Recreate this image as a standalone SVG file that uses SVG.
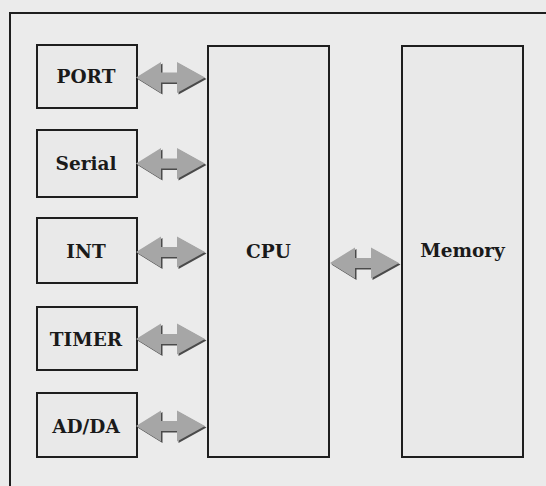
<svg xmlns="http://www.w3.org/2000/svg" xmlns:xlink="http://www.w3.org/1999/xlink" width="546" height="486" viewBox="0 0 546 486">
  <style>
    .box { fill: #e9e9e9; stroke: #1e1e1e; stroke-width: 2; }
    .lbl { font-family: "DejaVu Serif", "Liberation Serif", serif; font-weight: bold; font-size: 18.5px; fill: #1a1a1a; text-anchor: middle; }
    .frame { fill: none; stroke: #1e1e1e; stroke-width: 2; }
    .arw { fill: #a6a6a6; }
    .arw-sh { fill: #4a4a4a; }
  </style>
  <defs>
    <path id="dbl" d="M0,0 L25,-15.5 L25,-5 L41,-5 L41,-15.5 L69,0 L41,15.5 L41,5 L25,5 L25,15.5 Z"/>
  </defs>
  <rect x="0" y="0" width="546" height="486" fill="#ebebeb"/>
  <path class="frame" d="M10,486 L10,13 L546,13"/>

  <g id="port"><rect class="box" x="37" y="45" width="100" height="63"/><text class="lbl" x="86" y="83">PORT</text></g>
  <g id="serial"><rect class="box" x="37" y="130" width="100" height="67"/><text class="lbl" x="86" y="170">Serial</text></g>
  <g id="int"><rect class="box" x="37" y="218" width="100" height="65"/><text class="lbl" x="86" y="258">INT</text></g>
  <g id="timer"><rect class="box" x="37" y="307" width="100" height="63"/><text class="lbl" x="86" y="346">TIMER</text></g>
  <g id="adda"><rect class="box" x="37" y="393" width="100" height="64"/><text class="lbl" x="86" y="433">AD/DA</text></g>
  <g id="cpu"><rect class="box" x="208" y="46" width="121" height="411"/><text class="lbl" x="268.5" y="258">CPU</text></g>
  <g id="memory"><rect class="box" x="402" y="46" width="121" height="411"/><text class="lbl" x="462.5" y="257">Memory</text></g>

  <g id="connectors">
    <use href="#dbl" xlink:href="#dbl" class="arw-sh" transform="translate(137.5,79)"/>
    <use href="#dbl" xlink:href="#dbl" class="arw" transform="translate(136,77.5)"/>
    <use href="#dbl" xlink:href="#dbl" class="arw-sh" transform="translate(137.5,165)"/>
    <use href="#dbl" xlink:href="#dbl" class="arw" transform="translate(136,163.5)"/>
    <use href="#dbl" xlink:href="#dbl" class="arw-sh" transform="translate(137.5,253.5)"/>
    <use href="#dbl" xlink:href="#dbl" class="arw" transform="translate(136,252)"/>
    <use href="#dbl" xlink:href="#dbl" class="arw-sh" transform="translate(137.5,340.5)"/>
    <use href="#dbl" xlink:href="#dbl" class="arw" transform="translate(136,339)"/>
    <use href="#dbl" xlink:href="#dbl" class="arw-sh" transform="translate(137.5,427.5)"/>
    <use href="#dbl" xlink:href="#dbl" class="arw" transform="translate(136,426)"/>
    <use href="#dbl" xlink:href="#dbl" class="arw-sh" transform="translate(331.5,264.5)"/>
    <use href="#dbl" xlink:href="#dbl" class="arw" transform="translate(330,263)"/>
  </g>
</svg>
